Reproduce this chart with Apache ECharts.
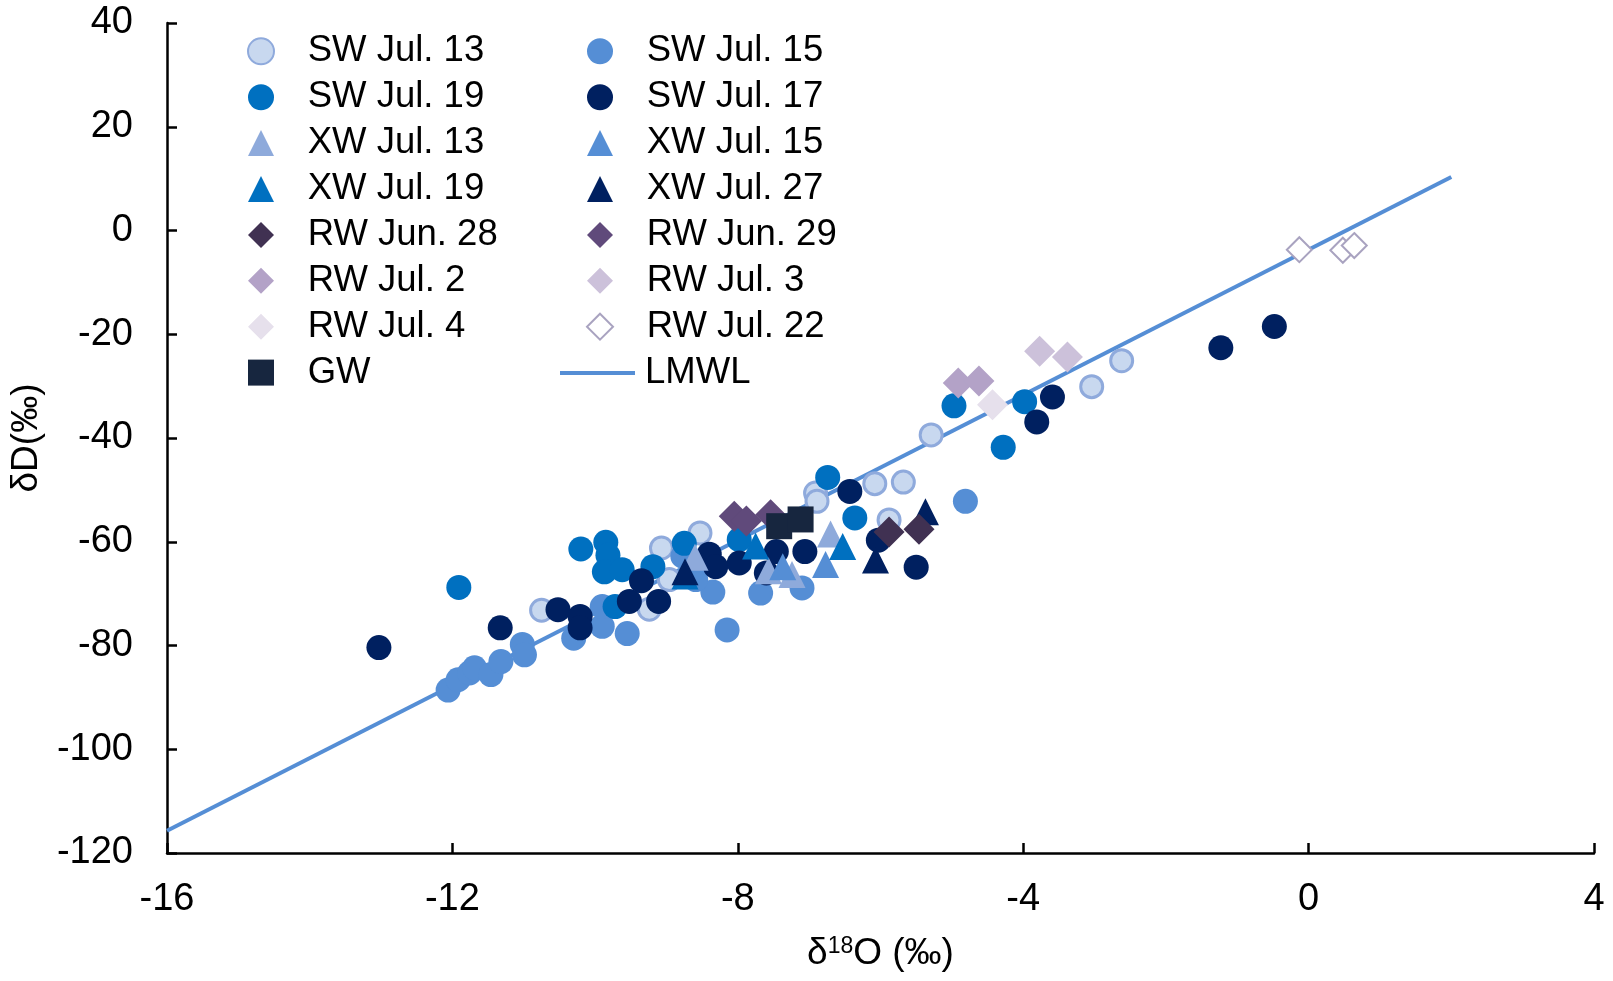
<!DOCTYPE html>
<html>
<head>
<meta charset="utf-8">
<script src="https://cdn.jsdelivr.net/npm/echarts@6/dist/echarts.min.js"></script>
<style>
html,body{margin:0;padding:0;background:#fff;}
#chart{width:1613px;height:981px;}
</style>
</head>
<body>
<div id="chart"></div>
<script>
// ---- Data (δ18O, δD) ----
const swJul13 = [[-2.62,-25.1],[-3.04,-30.1],[-5.29,-39.4],[-5.68,-48.5],[-6.08,-48.8],[-6.91,-50.6],[-6.89,-52.2],[-5.88,-55.8],[-8.53,-58.3],[-9.07,-61.2],[-9.24,-73.0],[-10.75,-73.2],[-8.96,-67.3]];
const swJul15 = [[-12.06,-88.6],[-11.92,-86.6],[-11.76,-85.3],[-11.69,-84.3],[-11.46,-85.6],[-11.32,-83.1],[-11.02,-79.8],[-10.99,-81.8],[-10.30,-78.6],[-9.90,-76.3],[-9.90,-72.5],[-9.55,-77.7],[-8.15,-77.0],[-8.35,-69.7],[-7.68,-69.9],[-7.10,-68.9],[-8.59,-67.3],[-8.77,-62.8],[-4.81,-52.2]];
const swJul19 = [[-11.91,-68.8],[-10.20,-61.4],[-9.85,-60.1],[-9.82,-62.6],[-9.87,-65.8],[-9.62,-65.4],[-9.19,-64.8],[-8.75,-60.3],[-9.72,-72.5],[-7.98,-59.6],[-6.74,-47.6],[-6.36,-55.4],[-4.97,-33.8],[-3.98,-33.0],[-4.28,-41.8]];
const swJul17 = [[-13.03,-80.4],[-11.33,-76.6],[-10.52,-73.1],[-10.21,-74.4],[-10.21,-76.6],[-9.35,-67.5],[-9.52,-71.5],[-9.11,-71.5],[-8.40,-62.4],[-8.31,-64.8],[-7.98,-64.1],[-7.46,-61.9],[-7.06,-61.9],[-7.60,-66.0],[-6.43,-50.3],[-6.03,-59.7],[-5.50,-64.9],[-3.81,-36.9],[-3.59,-32.1],[-1.23,-22.6],[-0.48,-18.5]];
const xwJul13 = [[-6.70,-58.5],[-7.57,-65.6],[-7.24,-66.3],[-8.60,-63.0]];
const xwJul15 = [[-7.37,-64.8],[-6.77,-64.4]];
const xwJul19 = [[-7.75,-60.8],[-6.53,-60.9],[-8.74,-66.6]];
const xwJul27 = [[-8.74,-65.8],[-6.07,-63.5],[-5.37,-54.2]];
const rwJun28 = [[-5.88,-58.1],[-5.46,-57.6]];
const rwJun29 = [[-8.05,-55.1],[-7.88,-56.0],[-7.54,-54.8]];
const rwJul2 = [[-4.91,-29.4],[-4.62,-29.0]];
const rwJul3 = [[-3.77,-23.3],[-3.38,-24.4]];
const rwJul4 = [[-4.43,-33.6]];
const rwJul22 = [[-0.13,-3.7],[0.48,-3.8],[0.64,-2.9]];
const gw = [[-7.42,-57.0],[-7.12,-55.7]];
const lmwl = [[-16,-115.7],[2,10.3]];

const xTicks = [-16,-12,-8,-4,0,4];
const yTicks = [40,20,0,-20,-40,-60,-80,-100,-120];

const legendLeft = ['SW Jul. 13','SW Jul. 19','XW Jul. 13','XW Jul. 19','RW Jun. 28','RW Jul. 2','RW Jul. 4','GW'];
const legendRight = ['SW Jul. 15','SW Jul. 17','XW Jul. 15','XW Jul. 27','RW Jun. 29','RW Jul. 3','RW Jul. 22'];

const FONT = 'Liberation Sans, Arial, sans-serif';
const FS = 38;
const LFS = 36.5;

function sc(name, data, symbol, size, color, extra) {
  return Object.assign({
    name: name, type: 'scatter', data: data, symbol: symbol, symbolSize: size,
    itemStyle: { color: color, opacity: 1 }, z: 3
  }, extra || {});
}

const series = [
  { name: 'LMWL', type: 'line', data: lmwl, symbol: 'none', showSymbol: false,
    lineStyle: { color: '#558ED5', width: 4 }, itemStyle: { color: '#558ED5' }, z: 2 },
  sc('SW Jul. 13', swJul13, 'circle', 22, '#C8D8EF', { itemStyle: { color: '#C8D8EF', borderColor: '#8FAADC', borderWidth: 3, opacity: 1 } }),
  sc('SW Jul. 15', swJul15, 'circle', 25, '#558ED5'),
  sc('SW Jul. 19', swJul19, 'circle', 25, '#0070C0'),
  sc('SW Jul. 17', swJul17, 'circle', 25, '#002060'),
  sc('XW Jul. 13', xwJul13, 'triangle', 27, '#8EAADB'),
  sc('XW Jul. 15', xwJul15, 'triangle', 27, '#558ED5'),
  sc('XW Jul. 19', xwJul19, 'triangle', 27, '#0070C0'),
  sc('XW Jul. 27', xwJul27, 'triangle', 27, '#002060'),
  sc('RW Jun. 28', rwJun28, 'diamond', 31, '#403152'),
  sc('RW Jun. 29', rwJun29, 'diamond', 31, '#604A7B'),
  sc('RW Jul. 2', rwJul2, 'diamond', 31, '#B3A2C7'),
  sc('RW Jul. 3', rwJul3, 'diamond', 31, '#CCC1DA'),
  sc('RW Jul. 4', rwJul4, 'diamond', 31, '#E6E0EC'),
  sc('RW Jul. 22', rwJul22, 'diamond', 25, '#FFFFFF', { itemStyle: { color: '#FFFFFF', borderColor: '#A9A3C0', borderWidth: 2, opacity: 1 } }),
  sc('GW', gw, 'rect', 26, '#17263F')
];

const legendCommon = {
  orient: 'vertical', itemWidth: 26, itemHeight: 26, itemGap: 8.9,
  textStyle: { fontFamily: FONT, fontSize: LFS, color: '#000', lineHeight: 37, padding: [0,0,0,28.7] },
  selectedMode: false
};

const chart = echarts.init(document.getElementById('chart'), null, { renderer: 'canvas' });
chart.setOption({
  animation: false,
  backgroundColor: '#fff',
  grid: { left: 163, right: 19, top: 23, bottom: 128, containLabel: false },
  legend: [
    Object.assign({}, legendCommon, { left: 242, top: 27.8, data: legendLeft }),
    Object.assign({}, legendCommon, { left: 581, top: 27.8, data: legendRight }),
    { orient: 'vertical', left: 555, top: 349.5, itemWidth: 75, itemHeight: 4, selectedMode: false,
      textStyle: { fontFamily: FONT, fontSize: LFS, color: '#000', lineHeight: 37, padding: [0,0,0,5] },
      data: [{ name: 'LMWL', icon: 'rect', itemStyle: { color: '#558ED5' } }] }
  ],
  xAxis: {
    type: 'value', min: xTicks[0], max: xTicks[xTicks.length-1], interval: 4,
    axisLine: { show: true, onZero: false, lineStyle: { color: '#000', width: 2.5 } },
    axisTick: { show: true, inside: true, length: 10, lineStyle: { color: '#000', width: 2.5 } },
    axisLabel: { fontFamily: FONT, fontSize: FS, color: '#000', margin: 28 },
    splitLine: { show: false },
    name: '{a|δ}{s|18}{a|O (‰)}', nameLocation: 'middle', nameGap: 82,
    nameTextStyle: { fontFamily: FONT, fontSize: 37, color: '#000',
      rich: { a: { fontFamily: FONT, fontSize: 37, color: '#000' },
              s: { fontFamily: FONT, fontSize: 23, color: '#000', verticalAlign: 'top', padding: [0,0,12,0] } } }
  },
  yAxis: {
    type: 'value', min: yTicks[yTicks.length-1], max: yTicks[0], interval: 20,
    axisLine: { show: true, onZero: false, lineStyle: { color: '#000', width: 2.5 } },
    axisTick: { show: true, inside: true, length: 10, lineStyle: { color: '#000', width: 2.5 } },
    axisLabel: { fontFamily: FONT, fontSize: FS, color: '#000', margin: 34 },
    splitLine: { show: false },
    name: 'δD(‰)', nameLocation: 'middle', nameGap: 122, nameRotate: 90,
    nameTextStyle: { fontFamily: FONT, fontSize: 37, color: '#000' }
  },
  series: series
});
</script>
</body>
</html>
